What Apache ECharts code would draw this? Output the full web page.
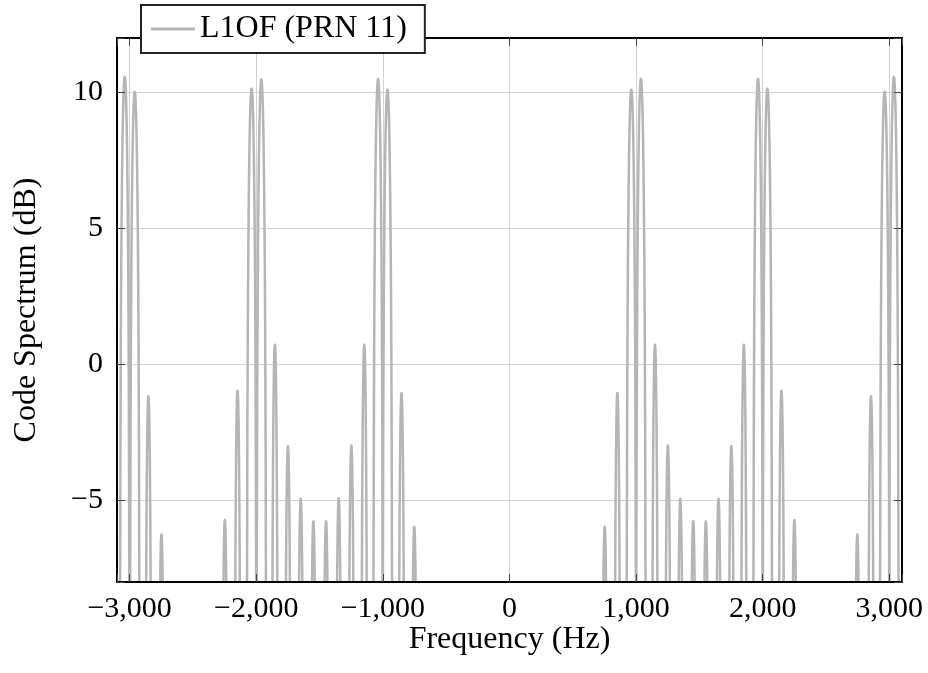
<!DOCTYPE html>
<html>
<head>
<meta charset="utf-8">
<script src="https://cdn.jsdelivr.net/npm/echarts@6/dist/echarts.min.js"></script>
<style>
  html, body { margin: 0; padding: 0; background: #fff; }
  #chart { width: 928px; height: 673px; }
</style>
</head>
<body>
<div id="chart"></div>
<script>
// Main (split) lobes of each spectral group: peak frequency (Hz) and level (dB)
const mainLobeFreq = [-3039, -2960, -2037, -1960, -1038, -964, 962, 1038, 1963, 2037, 2963, 3036];
const mainLobeDb   = [10.57, 10.02, 10.14, 10.48, 10.5, 10.1, 10.1, 10.5, 10.5, 10.14, 10.02, 10.57];

// Side lobes: peak frequency (Hz) and level (dB)
const sideLobeFreq = [-2852, -2749, -2248, -2148, -1853, -1750, -1649, -1549, -1449, -1349, -1249, -1147,
                      -853, -752, 752, 852, 1149, 1251, 1349, 1451, 1551, 1651, 1752, 1851,
                      2148, 2250, 2747, 2855];
const sideLobeDb   = [-1.17, -6.25, -5.72, -0.97, 0.72, -3.0, -4.94, -5.77, -5.77, -4.93, -2.98, 0.72,
                      -1.05, -5.97, -5.97, -1.05, 0.72, -2.98, -4.94, -5.77, -5.77, -4.94, -3.0, 0.72,
                      -0.97, -5.72, -6.25, -1.17];

const xTickValues = [-3000, -2000, -1000, 0, 1000, 2000, 3000];
const yTickValues = [-5, 0, 5, 10];

const SERIES_NAME = 'L1OF (PRN 11)';
const X_MIN = -3100, X_MAX = 3100;
const Y_MIN = -8, Y_MAX = 12;
const LINE_COLOR = '#b5b5b5';
const FONT = '"Liberation Serif", "Times New Roman", serif';

// Each lobe is outlined between its two nulls (half-width in Hz)
const MAIN_HALF_WIDTH = 39;
const SIDE_HALF_WIDTH = 25;

function lobeRenderer(halfWidth) {
  return function (params, api) {
    const c = api.value(0);
    const peak = api.value(1);
    const pts = [];
    const n = 48;
    for (let k = 0; k <= n; k++) {
      const f = c - halfWidth + (2 * halfWidth * k) / n;
      const g = Math.cos(Math.PI * (f - c) / (2 * halfWidth));
      let db = peak + 20 * Math.log10(Math.max(g, 1e-4));
      if (db < Y_MIN - 0.6) db = Y_MIN - 0.6;
      pts.push(api.coord([f, db]));
    }
    const cs = params.coordSys;
    return {
      type: 'group',
      clipPath: { type: 'rect', shape: { x: cs.x, y: cs.y, width: cs.width, height: cs.height } },
      children: [{
        type: 'polyline',
        shape: { points: pts },
        style: { stroke: LINE_COLOR, lineWidth: 2.5, fill: null, lineJoin: 'round' }
      }]
    };
  };
}

function fmt(v) {
  const s = Math.abs(v).toLocaleString('en-US');
  return v < 0 ? '\u2212' + s : s;
}

const labelStyle = { fontFamily: FONT, fontSize: 30, color: '#000' };

const frameX = (pos) => ({
  type: 'value', position: pos, min: X_MIN, max: X_MAX, splitNumber: 6, z: 5,
  axisLine: { show: true, onZero: false, lineStyle: { color: '#000', width: 2 } },
  axisTick: { show: true, inside: true, length: 8, lineStyle: { color: '#444', width: 1 } },
  axisLabel: { show: false }, splitLine: { show: false }
});
const frameY = (pos) => ({
  type: 'value', position: pos, min: Y_MIN, max: Y_MAX, splitNumber: 4, z: 5,
  axisLine: { show: true, onZero: false, lineStyle: { color: '#000', width: 2 } },
  axisTick: { show: true, inside: true, length: 8, lineStyle: { color: '#444', width: 1 } },
  axisLabel: { show: false }, splitLine: { show: false }
});

const chart = echarts.init(document.getElementById('chart'), null, { renderer: 'canvas' });
chart.setOption({
  animation: false,
  backgroundColor: '#fff',
  grid: { left: 117, right: 26, top: 38, bottom: 91 },
  legend: {
    left: 141, top: 5, z: 10,
    backgroundColor: '#fff', borderColor: '#222', borderWidth: 2,
    padding: [8, 18, 8, 10],
    itemWidth: 44, itemHeight: 3,
    data: [{ name: SERIES_NAME, icon: 'rect' }],
    textStyle: { fontFamily: FONT, fontSize: 32, color: '#000' }
  },
  xAxis: [
    {
      type: 'value', position: 'bottom', min: X_MIN, max: X_MAX, splitNumber: 6, z: 0,
      name: 'Frequency (Hz)', nameLocation: 'middle', nameGap: 42, nameMoveOverlap: false,
      nameTextStyle: { fontFamily: FONT, fontSize: 32, color: '#000' },
      axisLine: { show: false, onZero: false }, axisTick: { show: false },
      axisLabel: Object.assign({ margin: 12, showMinLabel: false, showMaxLabel: false,
        formatter: (v) => (xTickValues.includes(v) ? fmt(v) : '') }, labelStyle),
      splitLine: { show: true, lineStyle: { color: '#d2d2d2', width: 1 } }
    },
    frameX('bottom'),
    frameX('top')
  ],
  yAxis: [
    {
      type: 'value', position: 'left', min: Y_MIN, max: Y_MAX, splitNumber: 4, z: 0,
      name: 'Code Spectrum (dB)', nameLocation: 'middle', nameGap: 74, nameMoveOverlap: false,
      nameTextStyle: { fontFamily: FONT, fontSize: 32, color: '#000' },
      axisLine: { show: false, onZero: false }, axisTick: { show: false },
      axisLabel: Object.assign({ margin: 14, showMinLabel: false, showMaxLabel: false,
        formatter: (v) => (yTickValues.includes(v) ? fmt(v) : '') }, labelStyle),
      splitLine: { show: true, lineStyle: { color: '#d2d2d2', width: 1 } }
    },
    frameY('left'),
    frameY('right')
  ],
  series: [
    {
      name: SERIES_NAME, type: 'custom', xAxisIndex: 0, yAxisIndex: 0, z: 2,
      itemStyle: { color: LINE_COLOR },
      renderItem: lobeRenderer(MAIN_HALF_WIDTH),
      data: mainLobeFreq.map((f, i) => [f, mainLobeDb[i]])
    },
    {
      name: SERIES_NAME, type: 'custom', xAxisIndex: 0, yAxisIndex: 0, z: 2,
      itemStyle: { color: LINE_COLOR },
      renderItem: lobeRenderer(SIDE_HALF_WIDTH),
      data: sideLobeFreq.map((f, i) => [f, sideLobeDb[i]])
    }
  ]
});
</script>
</body>
</html>
